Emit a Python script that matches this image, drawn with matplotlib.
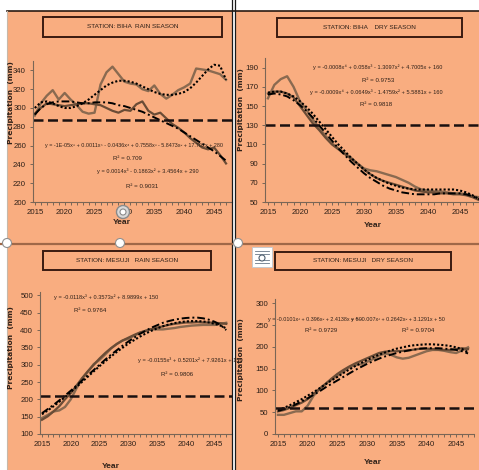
import matplotlib
matplotlib.use("Agg")
import matplotlib.pyplot as plt
from matplotlib.patches import Rectangle, Ellipse

W, H = 479, 470
ORANGE = '#f9ad80'
BROWN_A = '#8a6a50'
BROWN_B = '#6a4c36'
INK = '#2e2018'
NARROW = ['Liberation Sans', 'DejaVu Sans']

years = list(range(2015, 2048))
years_dry = list(range(2015, 2049))

# Biha rain season
biha_rain_a = [292, 305, 313, 319, 309, 316, 309, 303, 296, 294, 295, 325, 338, 344, 336, 328,
               326, 325, 320, 318, 324, 315, 310, 314, 319, 322, 326, 342, 341, 340, 338, 336, 330]
biha_rain_b = [294, 300, 305, 304, 303, 302, 303, 304, 305, 305, 304, 303, 300, 297, 295, 298,
               297, 304, 307, 297, 293, 295, 289, 283, 279, 274, 268, 263, 258, 256, 258, 250, 241]
biha_rain_fit6 = [300, 306, 307, 305, 302, 300, 300, 302, 305, 309, 314, 319, 324, 327, 329, 329,
                  328, 326, 323, 320, 317, 315, 314, 314, 315, 317, 321, 327, 334, 341, 346, 345, 330]
biha_rain_fit3 = [293, 300, 304, 306, 307, 307, 307, 306, 305, 305, 306, 306, 306, 305, 303, 302,
                  300, 298, 296, 293, 290, 287, 284, 281, 278, 274, 270, 266, 262, 258, 254, 249, 244]
biha_rain_mean = 287

# Biha dry season
biha_dry_a = [158, 172, 178, 181, 170, 155, 146, 136, 127, 119, 111, 106, 101, 96, 90, 85, 83,
              82, 80, 78, 76, 73, 70, 66, 63, 62, 61, 61, 60, 59, 59, 58, 56, 55]
biha_dry_b = [163, 165, 165, 163, 159, 150, 141, 132, 125, 117, 110, 105, 100, 95, 90, 84, 79,
              75, 72, 70, 68, 66, 64, 62, 61, 60, 60, 59, 59, 58, 58, 57, 55, 52]
biha_dry_fit_a = [164, 165, 165, 163, 160, 155, 149, 142, 134, 126, 118, 110, 103, 96, 90, 84, 79,
                  75, 72, 69, 67, 65, 64, 63, 63, 63, 63, 63, 63, 63, 62, 60, 57, 53]
biha_dry_fit_b = [162, 163, 162, 160, 156, 151, 145, 138, 130, 122, 114, 106, 99, 92, 86, 80, 75,
                  71, 67, 64, 62, 60, 59, 58, 58, 58, 58, 59, 59, 59, 59, 58, 56, 53]
biha_dry_mean = 130

# Mesuji rain season
mesuji_rain_a = [146, 155, 165, 168, 178, 200, 232, 260, 280, 302, 314, 330, 347, 360, 370, 375,
                 384, 392, 398, 402, 402, 402, 404, 406, 409, 411, 413, 414, 415, 415, 415, 418, 421]
mesuji_rain_b = [141, 151, 165, 180, 200, 218, 240, 262, 282, 300, 318, 334, 348, 360, 370, 378,
                 386, 393, 398, 403, 407, 411, 415, 418, 420, 422, 422, 423, 422, 422, 421, 420, 418]
mesuji_rain_fit_a = [157, 168, 180, 193, 207, 221, 236, 251, 266, 281, 296, 310, 324, 337, 349, 361,
                     371, 381, 390, 398, 405, 411, 416, 420, 423, 425, 426, 426, 425, 422, 418, 413, 405]
mesuji_rain_fit_b = [160, 172, 184, 197, 211, 225, 240, 255, 270, 285, 300, 315, 329, 342, 355, 367,
                     378, 389, 398, 407, 414, 421, 426, 430, 433, 435, 436, 436, 434, 430, 424, 415, 400]
mesuji_rain_mean = 210

# Mesuji dry season
mesuji_dry_a = [44, 44, 48, 52, 52, 65, 88, 103, 115, 125, 134, 143, 153, 158, 160, 166, 172,
                180, 185, 182, 176, 173, 175, 180, 185, 190, 193, 193, 191, 188, 186, 192, 199]
mesuji_dry_b = [52, 55, 60, 66, 72, 80, 92, 104, 115, 127, 138, 147, 155, 162, 168, 174, 180,
                186, 189, 190, 190, 191, 192, 194, 196, 196, 195, 194, 193, 193, 195, 197, 195]
mesuji_dry_fit_a = [55, 60, 66, 73, 80, 88, 96, 105, 114, 123, 131, 140, 148, 156, 163, 170, 176,
                    182, 187, 192, 196, 199, 202, 204, 205, 206, 206, 205, 204, 202, 199, 195, 188]
mesuji_dry_fit_b = [53, 57, 62, 68, 75, 82, 90, 98, 107, 115, 123, 131, 139, 147, 154, 161, 167,
                    173, 178, 182, 186, 189, 192, 194, 196, 197, 197, 197, 196, 195, 193, 190, 185]
mesuji_dry_mean = 60

fig = plt.figure(figsize=(W / 100, H / 100), dpi=100)
fig.patch.set_facecolor('white')


def fx(x):
    return x / W


def fy(y):
    return 1 - y / H


def frect(x0, y0, x1, y1, z=-5, **kw):
    fig.patches.append(Rectangle((fx(x0), fy(y1)), (x1 - x0) / W, (y1 - y0) / H,
                                 transform=fig.transFigure, figure=fig, zorder=z, **kw))


def fcirc(cx, cy, r, z=5, **kw):
    fig.patches.append(Ellipse((fx(cx), fy(cy)), 2 * r / W, 2 * r / H,
                               transform=fig.transFigure, figure=fig, zorder=z, **kw))


# orange panels and frame lines
frect(7, 11, 232, 243, facecolor=ORANGE, edgecolor='none')
frect(235, 11, 479, 243, facecolor=ORANGE, edgecolor='none')
frect(7, 245, 232, 470, facecolor=ORANGE, edgecolor='none')
frect(235, 245, 479, 470, facecolor=ORANGE, edgecolor='none')
fig.add_artist(plt.Line2D([fx(7), 1], [fy(10.5)] * 2, color='#2a1a12', lw=1.2))
fig.add_artist(plt.Line2D([fx(6.5)] * 2, [fy(11), 0], color='#c8b8a8', lw=0.8))
fig.add_artist(plt.Line2D([fx(232)] * 2, [1, 0], color='#1a1a1a', lw=0.9))
fig.add_artist(plt.Line2D([fx(235)] * 2, [1, 0], color='#1a1a1a', lw=0.9))
fig.add_artist(plt.Line2D([0, fx(232)], [fy(243.5)] * 2, color='#a06848', lw=1.6))
fig.add_artist(plt.Line2D([fx(235), 1], [fy(243.5)] * 2, color='#a06848', lw=1.6))
for cx, cy in [(7, 243), (120, 243), (238, 243)]:
    fcirc(cx, cy, 4.5, facecolor='white', edgecolor='#909090', lw=0.8)

# window widgets seen in the screenshot
fcirc(123, 212, 6.5, z=6, facecolor='#d8d8d8', edgecolor='#8a8a8a', lw=1.0)
fcirc(123, 212, 3, z=7, facecolor='white', edgecolor='#8a8a8a', lw=0.8)
frect(252, 247, 272, 267, z=6, facecolor='white', edgecolor='#c0c8d0', lw=0.6)
for yy in (251, 254, 260, 263):
    fig.add_artist(plt.Line2D([fx(255), fx(269)], [fy(yy)] * 2, color='#6a7888', lw=0.6,
                              zorder=7))
fcirc(262, 258, 3, z=7, facecolor='white', edgecolor='#506070', lw=0.8)


def panel(box, xlim, ylim, yticks, a, b, fit_a, fit_b, mean, xs):
    x0, y0, x1, y1 = box
    ax = fig.add_axes([fx(x0), fy(y1), (x1 - x0) / W, (y1 - y0) / H])
    ax.set_facecolor('none')
    ax.plot(xs, a, color=BROWN_A, lw=1.7)
    ax.plot(xs, b, color=BROWN_B, lw=1.6)
    ax.plot(xs, fit_a, color='black', lw=1.5, ls=(0, (1, 1)))
    ax.plot(xs, fit_b, color='black', lw=1.4, ls=(0, (4, 1.5, 1, 1.5)))
    ax.axhline(mean, color='#1a1010', lw=1.8, ls=(0, (4, 1.8)))
    ax.set_xlim(*xlim)
    ax.set_ylim(*ylim)
    ax.set_xticks(range(2015, 2046, 5))
    ax.set_xticks(range(2015, 2049), minor=True)
    ax.set_yticks(yticks)
    for s in ['top', 'right']:
        ax.spines[s].set_visible(False)
    for s in ['left', 'bottom']:
        ax.spines[s].set_color('#7a6656')
        ax.spines[s].set_linewidth(0.8)
    ax.tick_params(axis='both', which='both', direction='out', color='#7a6656',
                   length=2.5, width=0.7, labelcolor=INK, labelsize=5.6, pad=2.5)
    ax.tick_params(axis='x', which='minor', length=2)
    for lab in ax.get_xticklabels() + ax.get_yticklabels():
        lab.set_family(NARROW)
    return ax


panel((33, 61, 232, 202), (2014.7, 2046.8), (200, 350), range(200, 341, 20),
      biha_rain_a, biha_rain_b, biha_rain_fit6, biha_rain_fit3, biha_rain_mean, years)
panel((265, 58, 479, 202), (2014.54, 2047.5), (50, 200), range(50, 191, 20),
      biha_dry_a, biha_dry_b, biha_dry_fit_a, biha_dry_fit_b, biha_dry_mean, years_dry)
panel((40, 292, 232, 434), (2014.66, 2047.2), (100, 510), range(100, 501, 50),
      mesuji_rain_a, mesuji_rain_b, mesuji_rain_fit_a, mesuji_rain_fit_b, mesuji_rain_mean, years)
panel((275, 299, 474, 434), (2014.5, 2047.7), (0, 310), range(0, 301, 50),
      mesuji_dry_a, mesuji_dry_b, mesuji_dry_fit_a, mesuji_dry_fit_b, mesuji_dry_mean, years)

# title boxes
titles = [((43, 17, 222, 37), 'STATION: BIHA  RAIN SEASON'),
          ((277, 18, 462, 37), 'STATION: BIHA    DRY SEASON'),
          ((43, 251, 211, 270), 'STATION: MESUJI   RAIN SEASON'),
          ((275, 252, 451, 270), 'STATION: MESUJI   DRY SEASON')]
for (x0, y0, x1, y1), t in titles:
    frect(x0, y0, x1, y1, z=3, facecolor='none', edgecolor='#3a1a10', lw=1.4)
    fig.text(fx((x0 + x1) / 2), fy((y0 + y1) / 2), t, ha='center', va='center',
             fontsize=4.6, color=INK, family=NARROW)

# axis labels
for x, y in [(11, 103), (240.5, 110), (11, 348), (240.5, 360)]:
    fig.text(fx(x), fy(y), 'Precipitation  (mm)', rotation=90, ha='center', va='center',
             fontsize=5.4, fontweight='bold', color=INK, family=['DejaVu Sans'])
for x, y in [(122, 222), (373, 226), (111, 466), (373, 463)]:
    fig.text(fx(x), fy(y), 'Year', ha='center', va='center', fontsize=6,
             fontweight='bold', color=INK, family=NARROW)

# trendline equations
eqs = [
    (134, 146, 'y = -1E-05x⁶ + 0.0011x⁵ - 0.0436x⁴ + 0.7558x³ - 5.8473x² + 17.702x + 280', 3.9),
    (127, 159, 'R² = 0.709', 4.4),
    (148, 171, 'y = 0.0014x³ - 0.1863x² + 3.4564x + 290', 4.1),
    (142, 186, 'R² = 0.9031', 4.4),
    (378, 67, 'y = -0.0008x⁴ + 0.058x³ - 1.3097x² + 4.7005x + 160', 4.1),
    (378, 80, 'R² = 0.9753', 4.4),
    (376, 92, 'y = -0.0009x⁴ + 0.0649x³ - 1.4759x² + 5.5881x + 160', 4.1),
    (376, 105, 'R² = 0.9818', 4.4),
    (106, 297, 'y = -0.0118x³ + 0.3573x² + 8.9899x + 150', 4.1),
    (90, 311, 'R² = 0.9764', 4.4),
    (190, 360, 'y = -0.0155x³ + 0.5201x² + 7.9261x + 150', 4.1),
    (177, 374, 'R² = 0.9806', 4.4),
    (315, 319, 'y = -0.0101x³ + 0.396x² + 2.4138x + 50', 3.9),
    (398, 319, 'y = -0.007x³ + 0.2642x² + 3.1291x + 50', 3.9),
    (321, 331, 'R² = 0.9729', 4.4),
    (418, 331, 'R² = 0.9704', 4.4),
]
for x, y, t, fs in eqs:
    fig.text(fx(x), fy(y), t, ha='center', va='center', fontsize=fs, color=INK,
             family=NARROW)

fig.savefig('out.png', dpi=100, facecolor='white')
